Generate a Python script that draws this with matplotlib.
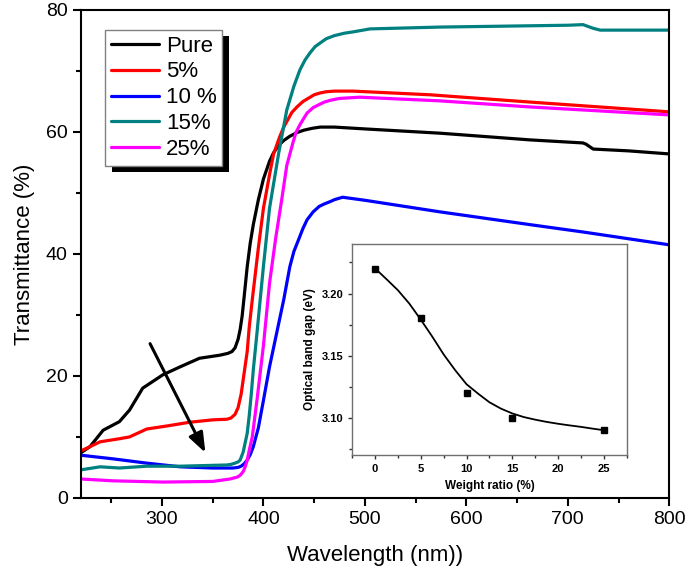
import matplotlib
matplotlib.use("Agg")
import matplotlib.pyplot as plt
from matplotlib.patches import Rectangle
from matplotlib.ticker import MultipleLocator, FormatStrFormatter

plt.rcParams['font.family'] = ['Liberation Sans', 'DejaVu Sans']

# transmittance spectra
wl_pure = [220, 229, 242, 258, 268, 281, 301, 318, 337, 357, 365, 369, 372, 375, 377, 379, 381, 384, 387, 390,
           395, 400, 406, 410, 415, 420, 426, 433, 440, 448, 456, 470, 500, 574, 663, 715, 718, 725, 760, 800]
t_pure = [7.4, 8.4, 11.1, 12.5, 14.4, 18.0, 20.2, 21.5, 22.9, 23.4, 23.7, 24.0, 24.6, 26.0, 27.6, 29.8, 33.0, 37.9, 41.8, 44.8,
          48.9, 52.3, 55.2, 56.6, 57.8, 58.6, 59.3, 59.9, 60.3, 60.6, 60.8, 60.8, 60.5, 59.8, 58.7, 58.2, 58.0, 57.2, 56.9, 56.4]

wl_5 = [220, 229, 239, 258, 268, 285, 305, 327, 350, 364, 368, 372, 375, 378, 381, 384, 386, 389, 395, 400,
        406, 410, 416, 420, 425, 428, 433, 439, 445, 450, 456, 462, 470, 488, 564, 663, 800]
t_5 = [7.7, 8.4, 9.2, 9.7, 10.0, 11.3, 11.8, 12.4, 12.8, 12.9, 13.1, 13.7, 14.8, 17.0, 20.5, 24.0, 28.0, 32.5, 41.0, 47.5,
       53.0, 56.4, 59.2, 60.8, 62.3, 63.2, 64.1, 65.0, 65.6, 66.1, 66.4, 66.6, 66.7, 66.7, 66.1, 64.9, 63.3]

wl_10 = [220, 252, 285, 318, 350, 370, 375, 378, 381, 384, 387, 390, 395, 400, 406, 413, 420, 426, 430, 435,
         439, 443, 449, 455, 460, 466, 470, 478, 500, 574, 663, 715, 800]
t_10 = [7.0, 6.4, 5.7, 5.1, 4.9, 4.9, 5.0, 5.2, 5.6, 6.2, 7.1, 8.4, 11.5, 16.0, 21.5, 27.0, 32.5, 37.9, 40.4, 42.5,
        44.2, 45.6, 46.9, 47.8, 48.2, 48.6, 48.9, 49.3, 48.8, 46.9, 44.8, 43.6, 41.5]

wl_15 = [220, 239, 258, 285, 318, 364, 368, 372, 375, 377, 380, 384, 386, 388, 390, 393.6, 400, 406, 415, 423,
         430, 436, 441, 446, 451, 456, 462, 470, 480, 488, 505, 574, 700, 715, 725, 732, 800]
t_15 = [4.6, 5.1, 4.9, 5.2, 5.2, 5.4, 5.5, 5.7, 5.9, 6.2, 7.5, 10.6, 13.5, 17.0, 21.0, 27.0, 38.0, 47.5, 56.5, 63.6,
        67.5, 70.2, 71.8, 73.0, 74.0, 74.6, 75.3, 75.8, 76.2, 76.4, 76.9, 77.2, 77.5, 77.6, 77.0, 76.7, 76.7]

wl_25 = [220, 252, 301, 350, 367, 374, 377, 380, 382, 384, 386, 389, 393.6, 400, 406, 412, 418, 423, 429, 432,
         436, 440, 443, 449, 455, 460, 466, 475, 495, 574, 663, 800]
t_25 = [3.1, 2.8, 2.6, 2.7, 3.1, 3.4, 3.7, 4.3, 5.1, 6.2, 7.8, 10.0, 16.0, 25.0, 35.2, 42.5, 48.9, 54.5, 58.2, 59.9,
        61.2, 62.3, 63.1, 64.0, 64.5, 64.9, 65.2, 65.5, 65.7, 65.1, 64.1, 62.8]

labels = ['Pure', '5%', '10 %', '15%', '25%']
colors = ['#000000', '#ff0000', '#0000ff', '#008080', '#ff00ff']

# inset: band gap vs weight ratio
ratio = [0, 5, 10, 15, 25]
gap = [3.22, 3.18, 3.12, 3.10, 3.09]
fit_x = [0, 1.25, 2.5, 3.75, 5, 6.25, 7.5, 8.75, 10, 11.25, 12.5, 13.75, 15, 16.25, 17.5, 18.75, 20, 21.25, 22.5, 23.75, 25]
fit_y = [3.2203, 3.2116, 3.2027, 3.1919, 3.179, 3.1654, 3.151, 3.1384, 3.127, 3.1195, 3.1125, 3.1074, 3.1035, 3.1006,
         3.0985, 3.0967, 3.0952, 3.0939, 3.0927, 3.0913, 3.0900]

fig = plt.figure(figsize=(6.85, 5.71), dpi=100)
ax = fig.add_axes([0.118, 0.128, 0.859, 0.8545])

series = [(wl_pure, t_pure), (wl_5, t_5), (wl_10, t_10), (wl_15, t_15), (wl_25, t_25)]
for (x, y), lab, c in zip(series, labels, colors):
    ax.plot(x, y, color=c, lw=2.3, label=lab, solid_joinstyle='round', solid_capstyle='round')

ax.set_xlim(220, 800)
ax.set_ylim(0, 80)
ax.xaxis.set_major_locator(MultipleLocator(100))
ax.xaxis.set_minor_locator(MultipleLocator(50))
ax.yaxis.set_major_locator(MultipleLocator(20))
ax.yaxis.set_minor_locator(MultipleLocator(10))
ax.tick_params(which='major', direction='out', length=6, width=1.5, labelsize=14)
ax.tick_params(which='minor', direction='out', length=3.5, width=1.5)
for s in ax.spines.values():
    s.set_linewidth(1.5)
ax.set_xlabel('Wavelength (nm))', fontsize=16, labelpad=12)
ax.set_ylabel('Transmittance (%)', fontsize=16, labelpad=8)

ax.annotate('', xy=(344, 7.0), xytext=(287, 25.7),
            arrowprops=dict(arrowstyle='-|>,head_length=1.2,head_width=0.45', color='black', lw=2.2))

leg_kw = dict(loc='upper left', borderaxespad=0, fontsize=16, frameon=True, fancybox=False,
              edgecolor='#808080', framealpha=1, handlelength=2.2, handletextpad=0.3,
              labelspacing=0.22, borderpad=0.25)
leg = ax.legend(bbox_to_anchor=(0.041, 0.959), **leg_kw)
leg.get_frame().set_linewidth(1.0)

fig.canvas.draw()
bb = leg.get_window_extent().transformed(fig.transFigure.inverted())
dx, dy = 7 / 685, 6 / 571
shadow = Rectangle((bb.x0 + dx, bb.y0 - dy), bb.width, bb.height, transform=fig.transFigure,
                   facecolor='black', edgecolor='none', zorder=4)
fig.patches.append(shadow)
# redraw legend on the figure so it sits above the shadow
leg.remove()
leg2 = fig.legend(*ax.get_legend_handles_labels(), bbox_to_anchor=(bb.x0, bb.y1),
                  bbox_transform=fig.transFigure, **leg_kw)
leg2.get_frame().set_linewidth(1.0)
leg2.set_zorder(6)

ins = fig.add_axes([0.514, 0.203, 0.401, 0.370])
ins.plot(fit_x, fit_y, color='black', lw=1.3, solid_joinstyle='round')
ins.plot(ratio, gap, 's', color='black', ms=4)
ins.set_xlim(-2.5, 27.5)
ins.set_ylim(3.07, 3.24)
ins.xaxis.set_major_locator(MultipleLocator(5))
ins.xaxis.set_minor_locator(MultipleLocator(2.5))
ins.yaxis.set_major_locator(MultipleLocator(0.05))
ins.yaxis.set_minor_locator(MultipleLocator(0.025))
ins.yaxis.set_major_formatter(FormatStrFormatter('%.2f'))
for s in ins.spines.values():
    s.set_color('#707070')
    s.set_linewidth(1.0)
ins.tick_params(which='major', direction='out', length=3, width=1, labelsize=8, color='#333333')
ins.tick_params(which='minor', direction='out', length=2, width=1, color='#333333')
for t in ins.get_xticklabels() + ins.get_yticklabels():
    t.set_fontweight('bold')
ins.set_xlabel('Weight ratio (%)', fontsize=8.5, fontweight='bold')
ins.set_ylabel('Optical band gap (eV)', fontsize=8.5, fontweight='bold')

fig.savefig('out.png', dpi=100)
